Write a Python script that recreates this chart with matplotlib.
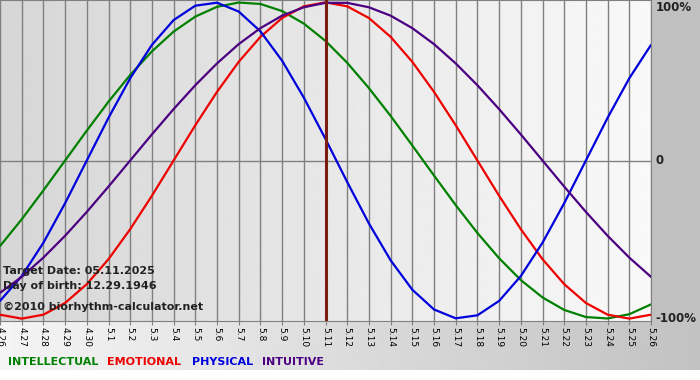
import matplotlib
matplotlib.use("Agg")
import matplotlib.pyplot as plt
import matplotlib.patches as mpatches
import numpy as np

# days shown, 4.26 .. 5.26
DATES = ["4.26", "4.27", "4.28", "4.29", "4.30"] + [f"5.{d}" for d in range(1, 27)]
TARGET_IDX = 15  # 5.11

# values in percent, one per day
INTELLECTUAL = [-54.1, -37.2, -18.9, 0.0, 18.9, 37.2, 54.1, 69.0, 81.5, 91.0,
                97.2, 99.9, 99.0, 94.5, 86.6, 75.6, 61.8, 45.8, 28.2, 9.5,
                -9.5, -28.2, -45.8, -61.8, -75.6, -86.6, -94.5, -99.0, -99.9, -97.2,
                -91.0]
EMOTIONAL = [-97.5, -100.0, -97.5, -90.1, -78.2, -62.4, -43.4, -22.3, 0.0, 22.3,
             43.4, 62.4, 78.2, 90.1, 97.5, 100.0, 97.5, 90.1, 78.2, 62.4,
             43.4, 22.3, 0.0, -22.3, -43.4, -62.4, -78.2, -90.1, -97.5, -100.0,
             -97.5]
PHYSICAL = [-88.8, -73.1, -52.0, -27.0, 0.0, 27.0, 52.0, 73.1, 88.8, 97.9,
            99.8, 94.2, 81.7, 63.1, 39.8, 13.6, -13.6, -39.8, -63.1, -81.7,
            -94.2, -99.8, -97.9, -88.8, -73.1, -52.0, -27.0, 0.0, 27.0, 52.0,
            73.1]
INTUITIVE = [-83.7, -73.6, -61.4, -47.6, -32.5, -16.5, 0.0, 16.5, 32.5, 47.6,
             61.4, 73.6, 83.7, 91.6, 96.9, 99.7, 99.7, 96.9, 91.6, 83.7,
             73.6, 61.4, 47.6, 32.5, 16.5, 0.0, -16.5, -32.5, -47.6, -61.4,
             -73.6]

SERIES = [
    ("INTELLECTUAL", INTELLECTUAL, "#008000"),
    ("EMOTIONAL", EMOTIONAL, "#ee0000"),
    ("PHYSICAL", PHYSICAL, "#0000dd"),
    ("INTUITIVE", INTUITIVE, "#4b0082"),
]

W, H = 700, 380
PLOT_R, PLOT_B = 651, 321

fig = plt.figure(figsize=(W / 100, H / 100), dpi=100)
fig.patch.set_facecolor("white")

# background: gray right column + gradient band under the plot
bg = fig.add_axes([0, 0, 1, 1])
bg.axis("off")
bg.add_patch(mpatches.Rectangle((PLOT_R, 0), W - PLOT_R, PLOT_B, color="#c0c0c0", lw=0))
band = np.linspace(0.96, 0.76, 256)[None, :]
bg.imshow(band, cmap="gray", vmin=0, vmax=1, aspect="auto",
          extent=(0, W, 370, PLOT_B), interpolation="bilinear")
bg.set_xlim(0, W)
bg.set_ylim(H, 0)

ax = fig.add_axes([0, (H - PLOT_B) / H, PLOT_R / W, PLOT_B / H])
x = np.arange(len(DATES))
ax.set_xlim(0, len(DATES) - 1)
ax.set_ylim(-101.5, 101.5)

grad = np.linspace(0.84, 0.975, 256)[None, :]
ax.imshow(grad, cmap="gray", vmin=0, vmax=1, aspect="auto",
          extent=(0, len(DATES) - 1, -101.5, 101.5), zorder=0, interpolation="bilinear")

for xi in x:
    ax.axvline(xi, color="#808080", lw=1, zorder=1)
ax.axhline(0, color="#808080", lw=1, zorder=1)

for name, vals, color in SERIES:
    ax.plot(x, vals, color=color, lw=1.6, zorder=3, solid_capstyle="round")

ax.axvline(TARGET_IDX, color="#7a1e10", lw=2.2, zorder=4)

ax.spines["left"].set_visible(False)
for side in ["top", "bottom", "right"]:
    ax.spines[side].set_color("#808080")

ax.set_xticks(x)
ax.set_xticklabels(DATES, rotation=270, fontsize=6.5)
ax.tick_params(axis="x", length=3, color="#808080", pad=1)
ax.set_yticks([])

for yv, lbl in [(97.0, "100%"), (0, "0"), (-100, "-100%")]:
    ax.text(1.007, yv, lbl, transform=ax.get_yaxis_transform(), ha="left", va="center",
            fontsize=8.5, fontweight="bold", color="#222222")

info = ["Target Date: 05.11.2025", "Day of birth: 12.29.1946"]
for i, line in enumerate(info):
    ax.text(3 / PLOT_R, 1 - (271 + 15 * i) / PLOT_B, line, transform=ax.transAxes,
            ha="left", va="center", fontsize=8, fontweight="bold", color="#222222", zorder=5)
ax.text(3 / PLOT_R, 1 - 307 / PLOT_B, "\u00a92010 biorhythm-calculator.net", transform=ax.transAxes,
        ha="left", va="center", fontsize=8, fontweight="bold", color="#222222", zorder=5)

# legend row
legend_x = [8, 107, 192, 262]
for (name, vals, color), lx in zip(SERIES, legend_x):
    fig.text(lx / W, 1 - 362 / H, name, ha="left", va="center",
             fontsize=8, fontweight="bold", color=color)

fig.savefig("out.png", dpi=100)
